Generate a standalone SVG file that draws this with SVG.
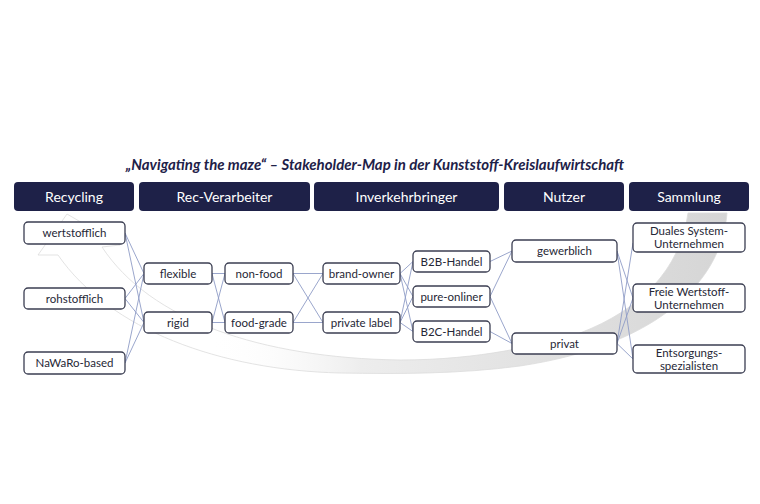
<svg xmlns="http://www.w3.org/2000/svg" width="760" height="504" viewBox="0 0 760 504">
<defs>
<linearGradient id="swoosh" gradientUnits="userSpaceOnUse" x1="60" y1="0" x2="730" y2="0">
<stop offset="0" stop-color="#ffffff" stop-opacity="0"/>
<stop offset="0.22" stop-color="#ffffff" stop-opacity="0"/>
<stop offset="0.45" stop-color="#ededed"/>
<stop offset="0.75" stop-color="#e0e0e0"/>
<stop offset="1" stop-color="#d5d5d5"/>
</linearGradient>
</defs>
<style>
.hdr rect{fill:#1e2148}
.hdr text{fill:#ffffff;font-family:Lato,"Open Sans",sans-serif;font-size:14px;text-anchor:middle}
.node rect{fill:#ffffff;stroke:#3b3e52;stroke-width:1.3}
.node text{fill:#262736;font-family:Lato,"Open Sans",sans-serif;font-size:11.5px;text-anchor:middle}
#connectors line{stroke:#8e9cc6;stroke-width:0.9}
.title{fill:#1e2148;font-family:Lato,"Open Sans",sans-serif;font-size:15px;font-weight:bold;font-style:italic;text-anchor:middle}
</style>
<rect width="760" height="504" fill="#ffffff"/>
<g id="background">
<path d="M727,213 C722,280 660,345 520,366 C460,374 400,374 340,373 C220,370 110,330 58,255 L38,255 L67,214 L120,245 L102,247 C150,320 260,358 400,360 C480,360 540,345 580,333 C640,310 680,270 688,213 Z" fill="url(#swoosh)" stroke="#dcdcdc" stroke-width="0.8"/>
</g>
<text class="title" x="375" y="170">„Navigating the maze“ – Stakeholder-Map in der Kunststoff-Kreislaufwirtschaft</text>
<g id="headers">
<g id="h-recycling" class="hdr"><rect x="14" y="182" width="120" height="29" rx="4"/><text x="74" y="202">Recycling</text></g>
<g id="h-recverarbeiter" class="hdr"><rect x="139" y="182" width="171" height="29" rx="4"/><text x="224.5" y="202">Rec-Verarbeiter</text></g>
<g id="h-inverkehrbringer" class="hdr"><rect x="314" y="182" width="185" height="29" rx="4"/><text x="406.5" y="202">Inverkehrbringer</text></g>
<g id="h-nutzer" class="hdr"><rect x="504" y="182" width="120" height="29" rx="4"/><text x="564" y="202">Nutzer</text></g>
<g id="h-sammlung" class="hdr"><rect x="629" y="182" width="120" height="29" rx="4"/><text x="689" y="202">Sammlung</text></g>
</g>
<g id="connectors">
<line x1="125" y1="233" x2="144" y2="273.5"/>
<line x1="125" y1="233" x2="144" y2="322.5"/>
<line x1="125" y1="298.5" x2="144" y2="273.5"/>
<line x1="125" y1="298.5" x2="144" y2="322.5"/>
<line x1="125" y1="363" x2="144" y2="273.5"/>
<line x1="125" y1="363" x2="144" y2="322.5"/>
<line x1="212" y1="273.5" x2="225" y2="273.5"/>
<line x1="212" y1="273.5" x2="225" y2="322.5"/>
<line x1="212" y1="322.5" x2="225" y2="273.5"/>
<line x1="212" y1="322.5" x2="225" y2="322.5"/>
<line x1="293" y1="273.5" x2="323" y2="273.5"/>
<line x1="293" y1="273.5" x2="323" y2="322.5"/>
<line x1="293" y1="322.5" x2="323" y2="273.5"/>
<line x1="293" y1="322.5" x2="323" y2="322.5"/>
<line x1="400" y1="273.5" x2="413" y2="261.5"/>
<line x1="400" y1="273.5" x2="413" y2="296.5"/>
<line x1="400" y1="273.5" x2="413" y2="331.5"/>
<line x1="400" y1="322.5" x2="413" y2="261.5"/>
<line x1="400" y1="322.5" x2="413" y2="296.5"/>
<line x1="400" y1="322.5" x2="413" y2="331.5"/>
<line x1="490" y1="261.5" x2="512" y2="251"/>
<line x1="490" y1="296.5" x2="512" y2="251"/>
<line x1="490" y1="296.5" x2="512" y2="343.5"/>
<line x1="490" y1="331.5" x2="512" y2="343.5"/>
<line x1="617" y1="251" x2="633" y2="298"/>
<line x1="617" y1="251" x2="633" y2="359"/>
<line x1="617" y1="343.5" x2="633" y2="243"/>
<line x1="617" y1="343.5" x2="633" y2="298"/>
<line x1="617" y1="343.5" x2="633" y2="359"/>
</g>
<g id="n-wertstofflich" class="node"><rect x="24" y="222" width="101" height="22" rx="4"/><text x="74.5" y="237">wertstofflich</text></g>
<g id="n-rohstofflich" class="node"><rect x="24" y="288" width="101" height="21" rx="4"/><text x="74.5" y="302.5">rohstofflich</text></g>
<g id="n-nawaro" class="node"><rect x="24" y="352" width="101" height="22" rx="4"/><text x="74.5" y="367">NaWaRo-based</text></g>
<g id="n-flexible" class="node"><rect x="144" y="263" width="68" height="21" rx="4"/><text x="178" y="277.5">flexible</text></g>
<g id="n-rigid" class="node"><rect x="144" y="312" width="68" height="21" rx="4"/><text x="178" y="326.5">rigid</text></g>
<g id="n-nonfood" class="node"><rect x="225" y="263" width="68" height="21" rx="4"/><text x="259" y="277.5">non-food</text></g>
<g id="n-foodgrade" class="node"><rect x="225" y="312" width="68" height="21" rx="4"/><text x="259" y="326.5">food-grade</text></g>
<g id="n-brandowner" class="node"><rect x="323" y="263" width="77" height="21" rx="4"/><text x="361.5" y="277.5">brand-owner</text></g>
<g id="n-privatelabel" class="node"><rect x="323" y="312" width="77" height="21" rx="4"/><text x="361.5" y="326.5">private label</text></g>
<g id="n-b2b" class="node"><rect x="413" y="251" width="77" height="21" rx="4"/><text x="451.5" y="265.5">B2B-Handel</text></g>
<g id="n-pureonliner" class="node"><rect x="413" y="286" width="77" height="21" rx="4"/><text x="451.5" y="300.5">pure-onliner</text></g>
<g id="n-b2c" class="node"><rect x="413" y="321" width="77" height="21" rx="4"/><text x="451.5" y="335.5">B2C-Handel</text></g>
<g id="n-gewerblich" class="node"><rect x="512" y="240" width="105" height="22" rx="4"/><text x="564.5" y="255">gewerblich</text></g>
<g id="n-privat" class="node"><rect x="512" y="333" width="105" height="21" rx="4"/><text x="564.5" y="347.5">privat</text></g>
<g id="n-duales" class="node"><rect x="633" y="223" width="112" height="29" rx="4"/><text x="689" y="235">Duales System-</text><text x="689" y="248">Unternehmen</text></g>
<g id="n-freie" class="node"><rect x="633" y="284" width="112" height="28" rx="4"/><text x="689" y="296">Freie Wertstoff-</text><text x="689" y="309">Unternehmen</text></g>
<g id="n-entsorgung" class="node"><rect x="633" y="345" width="112" height="28" rx="4"/><text x="689" y="357">Entsorgungs-</text><text x="689" y="370">spezialisten</text></g>
</svg>
